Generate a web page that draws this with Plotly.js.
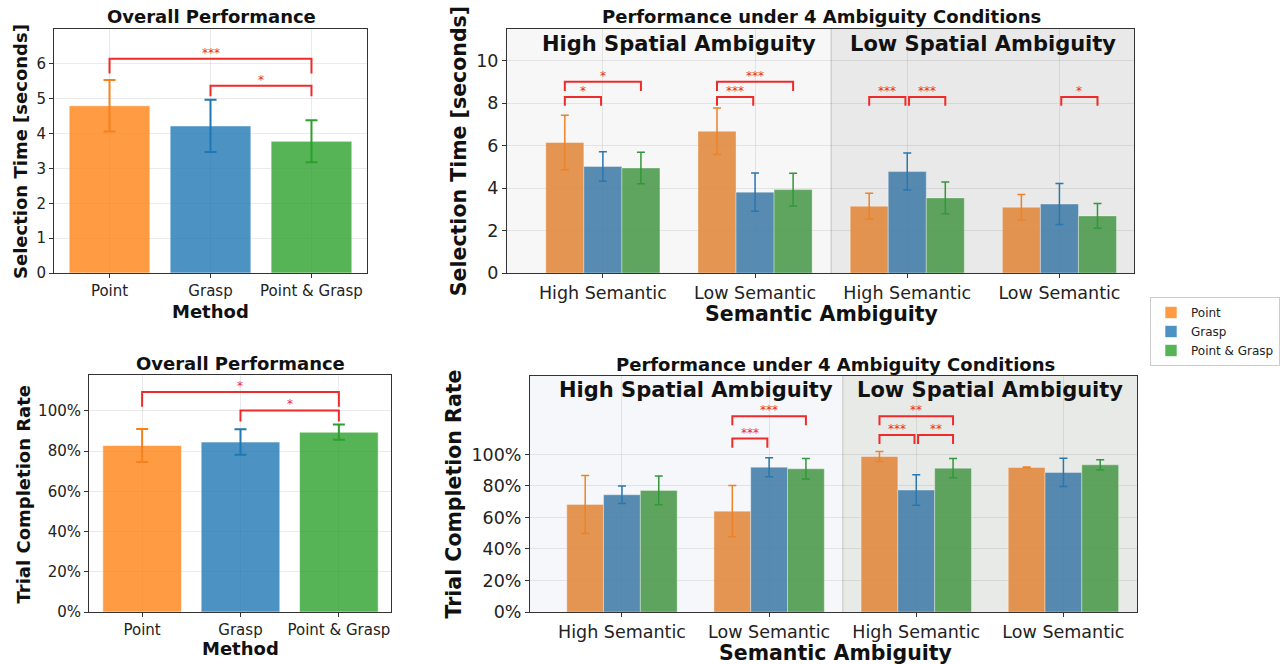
<!DOCTYPE html>
<html>
<head>
<meta charset="utf-8">
<script src="https://cdn.plot.ly/plotly-3.0.1.min.js"></script>
<style>html,body{margin:0;padding:0;background:#fff}#chart{width:1287px;height:664px}</style>
</head>
<body>
<div id="chart"></div>
<script>
// ---------------- DATA ----------------
const methods = ['Point', 'Grasp', 'Point & Grasp'];
const overallTime = [4.80, 4.22, 3.78];
const overallTimeErr = [0.74, 0.75, 0.60];
const overallRate = [0.828, 0.845, 0.894];
const overallRateErr = [0.082, 0.063, 0.038];

const conditions = ['High Semantic', 'Low Semantic', 'High Semantic', 'Low Semantic'];
const spatialLabels = ['High Spatial Ambiguity', 'Low Spatial Ambiguity'];

const timePoint = [6.15, 6.68, 3.15, 3.10];
const timeGrasp = [5.02, 3.81, 4.78, 3.25];
const timePointGrasp = [4.95, 3.93, 3.54, 2.69];
const timePointErr = [1.28, 1.10, 0.61, 0.60];
const timeGraspErr = [0.69, 0.90, 0.87, 0.97];
const timePointGraspErr = [0.74, 0.77, 0.75, 0.58];

const ratePoint = [0.683, 0.640, 0.987, 0.918];
const rateGrasp = [0.744, 0.919, 0.774, 0.886];
const ratePointGrasp = [0.772, 0.909, 0.913, 0.934];
const ratePointErr = [0.184, 0.163, 0.031, 0.003];
const rateGraspErr = [0.056, 0.060, 0.097, 0.090];
const ratePointGraspErr = [0.091, 0.065, 0.061, 0.032];

const timeTicks = [0, 1, 2, 3, 4, 5, 6];
const condTimeTicks = [0, 2, 4, 6, 8, 10];
const rateTicks = [0, 0.2, 0.4, 0.6, 0.8, 1.0];

// significance brackets: bars a..b (method index), bracket level, label
const sigOverallTime = [
  {a: 0, b: 2, top: 6.15, leg: 5.72, label: '***'},
  {a: 1, b: 2, top: 5.37, leg: 5.07, label: '*'}
];
const sigOverallRate = [
  {a: 0, b: 2, top: 1.094, leg: 1.02, label: '*'},
  {a: 1, b: 2, top: 1.002, leg: 0.947, label: '*'}
];
const sigCondTime = [
  {g: 0, a: 0, b: 1, top: 8.30, leg: 7.88, label: '*'},
  {g: 0, a: 0, b: 2, top: 9.01, leg: 8.58, label: '*'},
  {g: 1, a: 0, b: 1, top: 8.30, leg: 7.88, label: '***'},
  {g: 1, a: 0, b: 2, top: 9.01, leg: 8.58, label: '***'},
  {g: 2, a: 0, b: 1, top: 8.30, leg: 7.88, label: '***'},
  {g: 2, a: 1, b: 2, top: 8.30, leg: 7.88, label: '***'},
  {g: 3, a: 1, b: 2, top: 8.30, leg: 7.88, label: '*'}
];
const sigCondRate = [
  {g: 1, a: 0, b: 1, top: 1.101, leg: 1.042, label: '***'},
  {g: 1, a: 0, b: 2, top: 1.243, leg: 1.186, label: '***'},
  {g: 2, a: 0, b: 1, top: 1.124, leg: 1.067, label: '***'},
  {g: 2, a: 1, b: 2, top: 1.124, leg: 1.067, label: '**'},
  {g: 2, a: 0, b: 2, top: 1.243, leg: 1.186, label: '**'}
];

// ---------------- STYLE ----------------
const FONT = 'DejaVu Sans, Verdana, sans-serif';
const W = 1287, H = 664;
const fillOverall = ['rgba(255,127,14,0.78)', 'rgba(31,119,180,0.8)', 'rgba(44,160,44,0.8)'];
const errOverall = ['#f5821f', '#1f77b4', '#2ca02c'];
const fillCond = ['rgba(225,138,62,0.9)', 'rgba(70,126,168,0.9)', 'rgba(78,154,78,0.9)'];
const errCond = ['#ec8328', '#2a76ae', '#32983a'];
const RED = '#ee2b2b';
const GRID = 'rgba(0,0,0,0.08)';

const px = v => v / W;
const py = v => 1 - v / H;

const traces = [];
const timeVals = [timePoint, timeGrasp, timePointGrasp];
const timeErrs = [timePointErr, timeGraspErr, timePointGraspErr];
const rateVals = [ratePoint, rateGrasp, ratePointGrasp];
const rateErrs = [ratePointErr, rateGraspErr, ratePointGraspErr];
const catIdx = conditions.map((c, i) => i);

// overall panels
methods.forEach((m, i) => {
  traces.push({
    type: 'bar', name: m, legendgroup: m, showlegend: true,
    x: [i], y: [overallTime[i]], width: 0.8, offset: -0.4,
    xaxis: 'x', yaxis: 'y',
    marker: {color: fillOverall[i], line: {color: 'rgba(255,255,255,0.6)', width: 1}},
    error_y: {type: 'data', array: [overallTimeErr[i]], color: errOverall[i], thickness: 2, width: 6},
    hoverinfo: 'skip'
  });
  traces.push({
    type: 'bar', name: m, legendgroup: m, showlegend: false,
    x: [i], y: [overallRate[i]], width: 0.8, offset: -0.4,
    xaxis: 'x3', yaxis: 'y3',
    marker: {color: fillOverall[i], line: {color: 'rgba(255,255,255,0.6)', width: 1}},
    error_y: {type: 'data', array: [overallRateErr[i]], color: errOverall[i], thickness: 2, width: 6},
    hoverinfo: 'skip'
  });
});
// condition panels
methods.forEach((m, i) => {
  traces.push({
    type: 'bar', name: m, legendgroup: m, showlegend: false,
    x: catIdx, y: timeVals[i], width: 0.25, offset: -0.375 + 0.25 * i,
    xaxis: 'x2', yaxis: 'y2',
    marker: {color: fillCond[i], line: {color: 'rgba(255,255,255,0.35)', width: 1}},
    error_y: {type: 'data', array: timeErrs[i], color: errCond[i], thickness: 1.5, width: 4},
    hoverinfo: 'skip'
  });
  traces.push({
    type: 'bar', name: m, legendgroup: m, showlegend: false,
    x: catIdx, y: rateVals[i], width: 0.25, offset: -0.375 + 0.25 * i,
    xaxis: 'x4', yaxis: 'y4',
    marker: {color: fillCond[i], line: {color: 'rgba(255,255,255,0.35)', width: 1}},
    error_y: {type: 'data', array: rateErrs[i], color: errCond[i], thickness: 1.5, width: 4},
    hoverinfo: 'skip'
  });
});

const shapes = [];
const annotations = [];

function addBracket(xa, ya, x1, x2, top, leg, label) {
  shapes.push({type: 'path', xref: xa, yref: ya,
    path: `M ${x1},${leg} L ${x1},${top} L ${x2},${top} L ${x2},${leg}`,
    line: {color: RED, width: 2}, layer: 'above'});
  annotations.push({xref: xa, yref: ya, x: (x1 + x2) / 2, y: top, text: label, showarrow: false,
    yanchor: 'bottom', yshift: -3, font: {family: FONT, size: 12, color: RED}});
}
sigOverallTime.forEach(s => addBracket('x', 'y', s.a, s.b, s.top, s.leg, s.label));
sigOverallRate.forEach(s => addBracket('x3', 'y3', s.a, s.b, s.top, s.leg, s.label));
const barPos = (g, m) => g - 0.25 + 0.25 * m;
sigCondTime.forEach(s => addBracket('x2', 'y2', barPos(s.g, s.a) + (s.a === 1 ? 0.012 : 0), barPos(s.g, s.b) - (s.b === 1 ? 0.012 : 0), s.top, s.leg, s.label));
sigCondRate.forEach(s => addBracket('x4', 'y4', barPos(s.g, s.a) + (s.a === 1 ? 0.012 : 0), barPos(s.g, s.b) - (s.b === 1 ? 0.012 : 0), s.top, s.leg, s.label));

// spatial shading
function shade(xa, ya, x0, xmid, x1, cLeft, cRight) {
  shapes.push({type: 'rect', xref: xa, yref: ya + ' domain', x0: x0, x1: xmid, y0: 0, y1: 1, fillcolor: cLeft, line: {width: 0}, layer: 'below'});
  shapes.push({type: 'rect', xref: xa, yref: ya + ' domain', x0: xmid, x1: x1, y0: 0, y1: 1, fillcolor: cRight, line: {width: 0}, layer: 'below'});
  shapes.push({type: 'line', xref: xa, yref: ya + ' domain', x0: xmid, x1: xmid, y0: 0, y1: 1, line: {color: 'rgba(0,0,0,0.13)', width: 1.5}, layer: 'below'});
}
const xr2 = [-0.63, 3.49], xr4 = [-0.625, 3.5];
shade('x2', 'y2', xr2[0], 1.5, xr2[1], '#f7f7f7', '#e8e9e8');
shade('x4', 'y4', xr4[0], 1.5, xr4[1], '#f5f7fa', '#e8eae8');

spatialLabels.forEach((lab, k) => {
  annotations.push({xref: 'x2', yref: 'paper', x: 0.5 + 2 * k, y: py(44), text: '<b>' + lab + '</b>', showarrow: false,
    yanchor: 'middle', font: {family: FONT, size: 21, color: '#111'}});
  annotations.push({xref: 'x4', yref: 'paper', x: 0.5 + 2 * k, y: py(390), text: '<b>' + lab + '</b>', showarrow: false,
    yanchor: 'middle', font: {family: FONT, size: 21, color: '#111'}});
});

function txt(x, y, text, size, angle) {
  annotations.push({xref: 'paper', yref: 'paper', x: px(x), y: py(y), text: '<b>' + text + '</b>', showarrow: false,
    xanchor: 'center', yanchor: 'middle', textangle: angle || 0, font: {family: FONT, size: size, color: '#111'}});
}
// titles
txt(211, 17, 'Overall Performance', 18);
txt(240.5, 363.5, 'Overall Performance', 18);
txt(821, 17, 'Performance under 4 Ambiguity Conditions', 18);
txt(835, 364, 'Performance under 4 Ambiguity Conditions', 18);
// axis titles
txt(20.5, 151.5, 'Selection Time [seconds]', 18, -90);
txt(22.5, 494, 'Trial Completion Rate', 18, -90);
txt(458.5, 151.7, 'Selection Time [seconds]', 20.5, -90);
txt(453.5, 494, 'Trial Completion Rate', 20.5, -90);
txt(210.5, 311.5, 'Method', 18);
txt(240, 648, 'Method', 18);
txt(821, 314, 'Semantic Ambiguity', 20.5);
txt(835, 652.5, 'Semantic Ambiguity', 20.5);

function axisBase(extra) {
  return Object.assign({
    showline: true, mirror: true, linecolor: '#333', linewidth: 1,
    ticks: 'outside', ticklen: 4, tickwidth: 1, tickcolor: '#333',
    showgrid: true, gridcolor: GRID, gridwidth: 1, zeroline: false,
    fixedrange: true, automargin: false
  }, extra);
}
const pctText = rateTicks.map(v => Math.round(v * 100) + '%');

const layout = {
  width: W, height: H,
  margin: {l: 0, r: 0, t: 0, b: 0, pad: 0},
  paper_bgcolor: '#ffffff', plot_bgcolor: '#ffffff',
  font: {family: FONT, color: '#222'},
  barmode: 'overlay',
  showlegend: true,
  legend: {x: px(1150), y: py(297), xanchor: 'left', yanchor: 'top', bgcolor: '#fff',
    bordercolor: '#cccccc', borderwidth: 1, font: {family: FONT, size: 12, color: '#222'}, traceorder: 'normal'},
  xaxis: axisBase({domain: [px(54), px(367)], range: [-0.55, 2.55], tickvals: [0, 1, 2], ticktext: methods,
    tickfont: {size: 15, color: '#222'}, anchor: 'y'}),
  yaxis: axisBase({domain: [py(273), py(29)], range: [0, 7], tickvals: timeTicks,
    tickfont: {size: 15, color: '#222'}, anchor: 'x'}),
  xaxis2: axisBase({domain: [px(507), px(1134)], range: xr2, tickvals: catIdx, ticktext: conditions,
    tickfont: {size: 17.5, color: '#222'}, anchor: 'y2'}),
  yaxis2: axisBase({domain: [py(273), py(29)], range: [0, 11.5], tickvals: condTimeTicks,
    tickfont: {size: 17.5, color: '#222'}, anchor: 'x2'}),
  xaxis3: axisBase({domain: [px(89), px(391)], range: [-0.54, 2.53], tickvals: [0, 1, 2], ticktext: methods,
    tickfont: {size: 15, color: '#222'}, anchor: 'y3'}),
  yaxis3: axisBase({domain: [py(612), py(375)], range: [0, 1.178], tickvals: rateTicks, ticktext: pctText,
    tickfont: {size: 15, color: '#222'}, anchor: 'x3'}),
  xaxis4: axisBase({domain: [px(530), px(1137)], range: xr4, tickvals: catIdx, ticktext: conditions,
    tickfont: {size: 17.5, color: '#222'}, anchor: 'y4'}),
  yaxis4: axisBase({domain: [py(612), py(376)], range: [0, 1.498], tickvals: rateTicks, ticktext: pctText,
    tickfont: {size: 17.5, color: '#222'}, anchor: 'x4'}),
  shapes: shapes,
  annotations: annotations
};

Plotly.newPlot('chart', traces, layout, {displayModeBar: false, staticPlot: true});
</script>
</body>
</html>
